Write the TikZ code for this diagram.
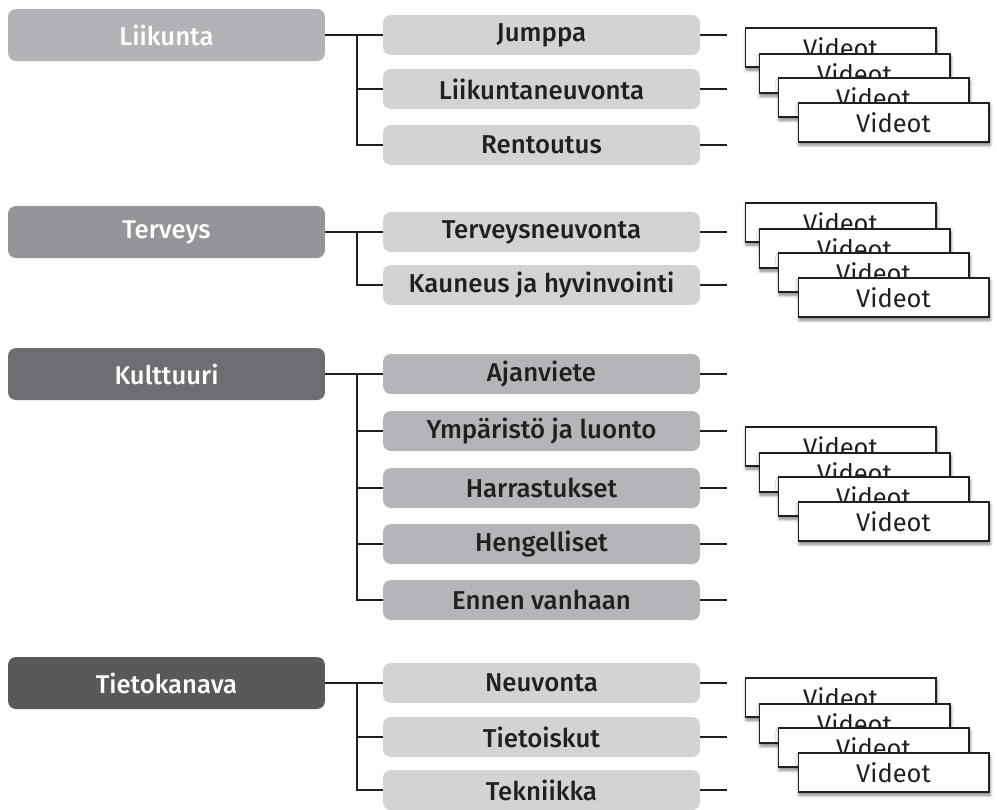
\documentclass[tikz,border=0pt]{standalone}
\usepackage{fontspec}
\setmainfont{Fira Sans}[BoldFont={Fira Sans Medium}]
\usetikzlibrary{shadows.blur}

\definecolor{liikgray}{HTML}{B2B3B6}
\definecolor{tervgray}{HTML}{939598}
\definecolor{kultgray}{HTML}{6D6E71}
\definecolor{tietgray}{HTML}{58595B}
\definecolor{sublight}{HTML}{D1D3D4}
\definecolor{submid}{HTML}{B4B5B8}
\definecolor{txtdark}{HTML}{231F20}

\tikzset{
  mainbox/.style={rounded corners=4.5pt, minimum width=6.34cm, minimum height=1.04cm,
    text=white, font=\bfseries\fontsize{14.6}{16}\selectfont},
  subbox/.style={rounded corners=4.5pt, minimum width=6.34cm, minimum height=0.8cm,
    fill=sublight, text=txtdark, font=\bfseries\fontsize{14.7}{16}\selectfont},
  videot/.style={draw=txtdark, line width=0.6pt, fill=white, minimum width=3.82cm,
    minimum height=0.78cm, text=txtdark, font=\fontsize{14.5}{16}\selectfont,
    blur shadow={shadow xshift=0.6pt, shadow yshift=-1.8pt, shadow blur radius=1.8pt,
      shadow opacity=50}},
  link/.style={draw=txtdark, line width=1.1pt},
}

\begin{document}
\begin{tikzpicture}[x=0.02cm, y=-0.02cm]
\useasboundingbox (0,0) rectangle (997,809);

% paaryhmat
\node[mainbox, fill=liikgray] (liik) at (166.5,35) {Liikunta};
\node[mainbox, fill=tervgray] (terv) at (166.5,232) {Terveys};
\node[mainbox, fill=kultgray] (kult) at (166.5,374) {Kulttuuri};
\node[mainbox, fill=tietgray] (tiet) at (166.5,683) {Tietokanava};

% alaryhmat
\node[subbox] (jumppa)  at (541.5,35)  {Jumppa};
\node[subbox] (lneuv)   at (541.5,89)  {Liikuntaneuvonta};
\node[subbox] (rent)    at (541.5,145) {Rentoutus};
\node[subbox] (tneuv)   at (541.5,232) {Terveysneuvonta};
\node[subbox] (kauneus) at (541.5,285) {Kauneus ja hyvinvointi};
\node[subbox, fill=submid] (ajanv) at (541.5,374) {Ajanviete};
\node[subbox, fill=submid] (ymp)   at (541.5,431) {Ympäristö ja luonto};
\node[subbox, fill=submid] (harr)  at (541.5,488) {Harrastukset};
\node[subbox, fill=submid] (heng)  at (541.5,544) {Hengelliset};
\node[subbox, fill=submid] (ennen) at (541.5,600) {Ennen vanhaan};
\node[subbox] (neuv)    at (541.5,683) {Neuvonta};
\node[subbox] (tietoi)  at (541.5,737) {Tietoiskut};
\node[subbox] (tekn)    at (541.5,790) {Tekniikka};

% haarat
\coordinate (liikb) at (357,35);
\coordinate (tervb) at (357,232);
\coordinate (kultb) at (357,374);
\coordinate (tietb) at (357,683);

\draw[link] (liik) -- (jumppa);
\draw[link] (liikb) |- (lneuv);
\draw[link] (liikb) |- (rent);
\draw[link] (terv) -- (tneuv);
\draw[link] (tervb) |- (kauneus);
\draw[link] (kult) -- (ajanv);
\foreach \n in {ymp,harr,heng,ennen}
  \draw[link] (kultb) |- (\n);
\draw[link] (tiet) -- (neuv);
\draw[link] (tietb) |- (tietoi);
\draw[link] (tietb) |- (tekn);

\foreach \n in {jumppa,lneuv,rent,tneuv,kauneus,ajanv,ymp,harr,heng,ennen,neuv,tietoi,tekn}
  \draw[link] (\n.east) -- ++(27,0);

% videopinot
\foreach \s/\t in {liik/28, terv/203, kult/427, tiet/678}
  \foreach \i/\dx/\dy in {1/0/0, 2/14/26, 3/33/50, 4/53/75}
    \node[videot] (v\s\i) at (840.5+\dx, \t+19.5+\dy) {Videot};
\end{tikzpicture}
\end{document}
